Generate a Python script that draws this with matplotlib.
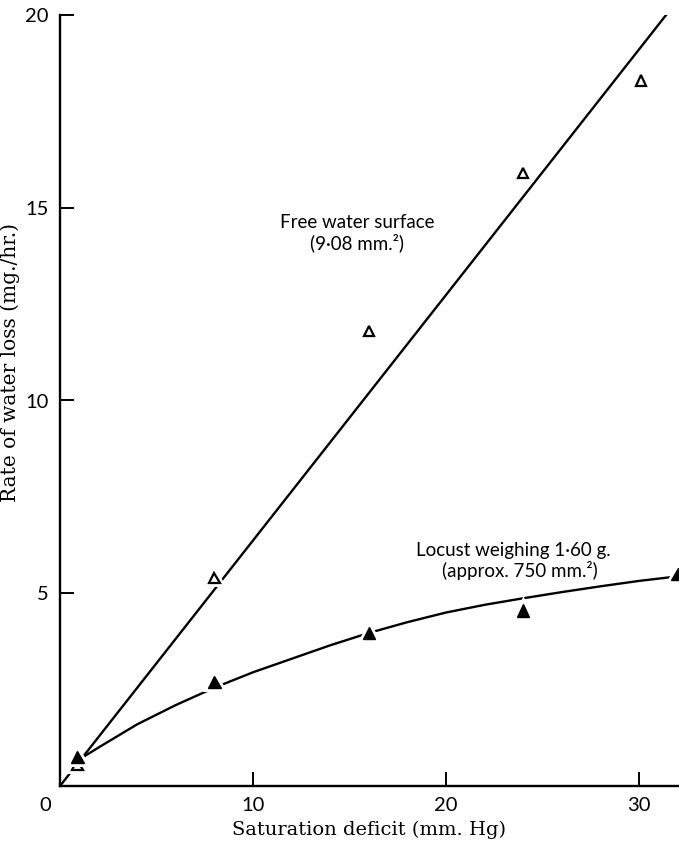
import numpy as np
import matplotlib
matplotlib.use("Agg")
import matplotlib.pyplot as plt
import matplotlib.patheffects as pe
from matplotlib.transforms import offset_copy

# measured points, open triangles = free water, filled = locust
water_x = [0.9, 8.0, 16.0, 24.0, 30.1]
water_y = [0.55, 5.4, 11.8, 15.9, 18.3]
locust_x = [0.9, 8.0, 16.0, 24.0, 32.0]
locust_y = [0.75, 2.7, 3.97, 4.55, 5.5]

# fitted line for free water (ends where it hits the top)
water_fit_x = [0.0, 31.4]
water_fit_y = [0.0, 20.0]

# hand drawn curve for the locust
locust_fit_x = [1.2, 2, 4, 6, 8, 10, 12, 14, 16, 18, 20, 22, 24, 26, 28, 30, 32.2]
locust_fit_y = [0.75, 1.0, 1.6, 2.1, 2.55, 2.95, 3.3, 3.65, 3.97, 4.25, 4.5,
                4.7, 4.87, 5.03, 5.18, 5.32, 5.45]

xticks = [10, 20, 30]
yticks = [5, 10, 15, 20]

sans = ["Lato", "DejaVu Sans"]
serif = ["DejaVu Serif"]

fig = plt.figure(figsize=(6.79, 8.48), dpi=100)
ax = fig.add_axes([60/679, 1 - 786/848, 1 - 60/679, (786 - 15)/848])
ax.set_xlim(0, 32.07)
ax.set_ylim(0, 20)

halo = [pe.withStroke(linewidth=5, foreground="white")]

ax.plot(water_fit_x, water_fit_y, color="black", lw=1.7, zorder=2)
ax.plot(locust_fit_x, locust_fit_y, color="black", lw=1.7, zorder=2)

ax.plot(water_x, water_y, linestyle="none", marker="^", markersize=7.5,
        markerfacecolor="white", markeredgecolor="black", markeredgewidth=1.6,
        path_effects=halo, zorder=3, clip_on=False)
ax.plot(locust_x, locust_y, linestyle="none", marker="^", markersize=9,
        color="black", path_effects=halo, zorder=4, clip_on=False)

ax.spines["top"].set_visible(False)
ax.spines["right"].set_visible(False)
for s in ["left", "bottom"]:
    ax.spines[s].set_linewidth(1.7)

ax.set_xticks(xticks)
ax.set_yticks(yticks)
ax.tick_params(direction="in", length=10, width=1.4, labelsize=14.5, pad=8)
for lab in ax.get_xticklabels() + ax.get_yticklabels():
    lab.set_family(sans)

# origin label sits left of the corner
ax.text(0, 0, "0", fontsize=14.5, family=sans, ha="center", va="top",
        transform=offset_copy(ax.transData, fig=fig, x=-15, y=-11, units="dots"))

ax.set_xlabel("Saturation deficit (mm. Hg)", family=serif, fontsize=14, labelpad=5)
ax.set_ylabel("Rate of water loss (mg./hr.)", family=serif, fontsize=14.5)
ax.yaxis.set_label_coords(-0.064, 0.549)

ax.text(15.4, 14.63, "Free water surface", family=sans, fontsize=13.5,
        ha="center", va="center")
ax.text(15.4, 14.1, "(9·08 mm.²)", family=sans, fontsize=13.5,
        ha="center", va="center")
ax.text(23.5, 6.1, "Locust weighing 1·60 g.", family=sans, fontsize=13.5,
        ha="center", va="center")
ax.text(23.8, 5.58, "(approx. 750 mm.²)", family=sans, fontsize=13.5,
        ha="center", va="center")

fig.savefig("out.png", dpi=100)
